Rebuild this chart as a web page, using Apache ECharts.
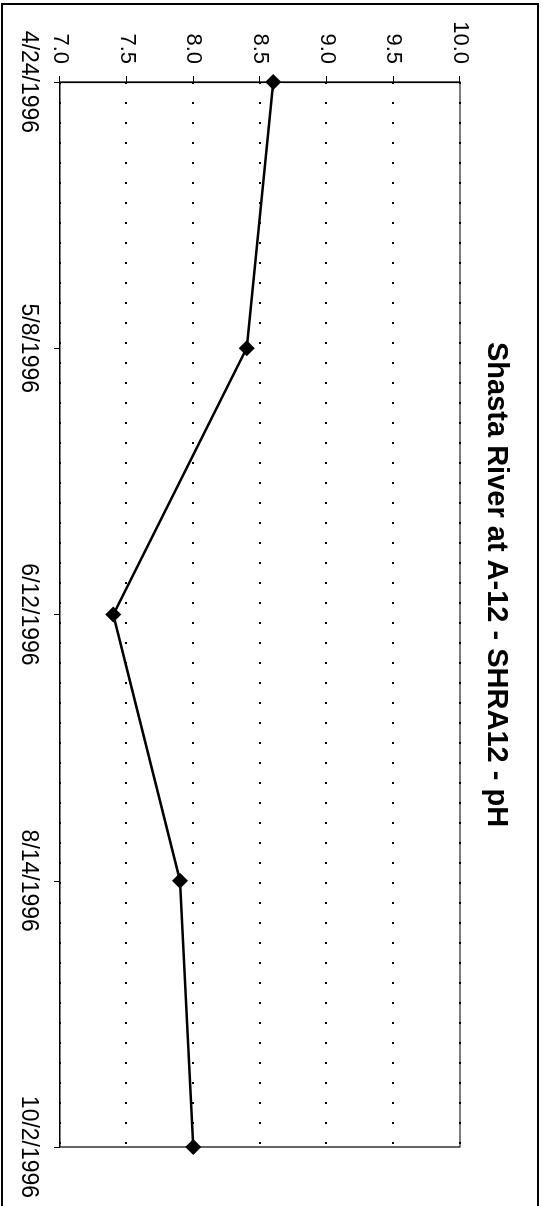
<!DOCTYPE html>
<html>
<head>
<meta charset="utf-8">
<script src="https://cdn.jsdelivr.net/npm/echarts@6/dist/echarts.min.js"></script>
<style>
html,body{margin:0;padding:0;background:#fff;overflow:hidden;width:544px;height:1206px;}
#wrap{position:absolute;left:0;top:0;width:1206px;height:544px;transform-origin:0 0;transform:translate(544px,0) rotate(90deg);}
#chart{width:1206px;height:544px;}
</style>
</head>
<body>
<div id="wrap"><div id="chart"></div></div>
<script>
const titleText = 'Shasta River at A-12 - SHRA12 - pH';
const categories = ['4/24/1996', '5/8/1996', '6/12/1996', '8/14/1996', '10/2/1996'];
const phValues = [8.6, 8.4, 7.4, 7.9, 8.0];
const yMin = 7.0, yMax = 10.0, yStep = 0.5;

const chart = echarts.init(document.getElementById('chart'), null, {renderer: 'canvas'});
const font = '"Liberation Sans", Arial, Helvetica, sans-serif';
chart.setOption({
  backgroundColor: '#fff',
  animation: false,
  title: {
    text: titleText,
    left: 337,
    top: 28,
    textStyle: {fontFamily: font, fontSize: 29, fontWeight: 'bold', color: '#000'}
  },
  graphic: [{
    type: 'rect',
    shape: {x: 4, y: 6, width: 1210, height: 536},
    style: {fill: 'none', stroke: '#000', lineWidth: 2},
    silent: true
  }],
  grid: {left: 82, right: 59, top: 84, bottom: 60, show: true, borderColor: '#000', borderWidth: 1.2, backgroundColor: 'transparent'},
  xAxis: {
    type: 'category',
    data: categories,
    boundaryGap: false,
    axisLine: {lineStyle: {color: '#000', width: 1.2}},
    axisTick: {show: true, length: 6, lineStyle: {color: '#000'}},
    axisLabel: {color: '#000', fontFamily: font, fontSize: 23, margin: 20, interval: 0}
  },
  yAxis: {
    type: 'value',
    min: yMin,
    max: yMax,
    interval: yStep,
    axisLine: {show: true, lineStyle: {color: '#000', width: 1.2}},
    axisTick: {show: true, length: 6, lineStyle: {color: '#000'}},
    axisLabel: {color: '#000', fontFamily: font, fontSize: 22, margin: 18, formatter: v => v.toFixed(1)},
    splitLine: {show: true, lineStyle: {color: '#000', width: 2, type: [2, 18]}}
  },
  series: [{
    type: 'line',
    data: phValues,
    symbol: 'diamond',
    symbolSize: 16,
    itemStyle: {color: '#000'},
    lineStyle: {color: '#000', width: 2.5},
    z: 5
  }]
});
</script>
</body>
</html>
